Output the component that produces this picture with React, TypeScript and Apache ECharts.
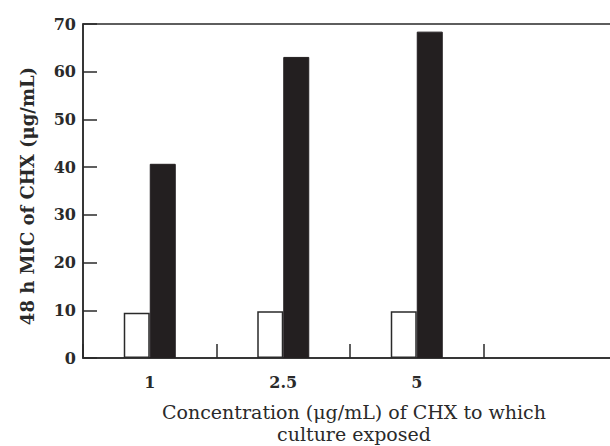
import React, { useEffect, useRef } from "react";
import * as echarts from "echarts";

const categories = ["1", "2.5", "5", ""];
const controlValues = [9.5, 9.8, 9.8, null];
const exposedValues = [40.7, 63.1, 68.4, null];
const yTicks = [0, 10, 20, 30, 40, 50, 60, 70];
const yTitle = "48 h MIC of CHX (μg/mL)";
const xTitle = "Concentration (μg/mL) of CHX to which\nculture exposed";

const SERIF = "'DejaVu Serif', 'Liberation Serif', serif";
const INK = "#2a2a2a";

export default function App() {
  const ref = useRef<HTMLDivElement>(null);
  useEffect(() => {
    if (!ref.current) return;
    const chart = echarts.init(ref.current, undefined, { renderer: "svg" });
    chart.setOption({
      animation: false,
      backgroundColor: "#ffffff",
      grid: {
        left: 83,
        width: 534,
        top: 24,
        bottom: 88,
        outerBoundsMode: "none",
        containLabel: false,
        show: true,
        borderColor: INK,
        borderWidth: 1.5,
        backgroundColor: "transparent",
      },
      graphic: [
        {
          type: "text",
          x: 27,
          y: 196,
          rotation: Math.PI / 2,
          style: {
            text: yTitle,
            fontFamily: SERIF,
            fontSize: 18,
            fontWeight: "bold",
            fill: INK,
            align: "center",
            verticalAlign: "middle",
          },
        },
        {
          type: "text",
          x: 354,
          y: 401,
          style: {
            text: xTitle,
            fontFamily: SERIF,
            fontSize: 19,
            lineHeight: 22,
            fill: INK,
            align: "center",
            verticalAlign: "top",
          },
        },
      ],
      xAxis: {
        type: "category",
        data: categories,
        boundaryGap: true,
        axisLine: { show: true, lineStyle: { color: INK, width: 1.5 } },
        axisTick: { show: true, inside: true, length: 14, lineStyle: { color: INK, width: 1.5 } },
        axisLabel: {
          fontFamily: SERIF,
          fontSize: 16,
          fontWeight: "bold",
          color: INK,
          margin: 16,
        },
        splitLine: { show: false },
      },
      yAxis: {
        type: "value",
        min: 0,
        max: 70,
        interval: 10,
        axisLine: { show: true, lineStyle: { color: INK, width: 1.5 } },
        axisTick: { show: true, inside: true, length: 14, lineStyle: { color: INK, width: 1.5 } },
        axisLabel: {
          fontFamily: SERIF,
          fontSize: 16,
          fontWeight: "bold",
          color: INK,
          margin: 7,
          formatter: (v: number) => (yTicks.includes(v) ? String(v) : ""),
        },
        splitLine: { show: false },
      },
      series: [
        {
          type: "bar",
          data: controlValues,
          barWidth: 26,
          barGap: "0%",
          itemStyle: { color: "#ffffff", borderColor: INK, borderWidth: 1.5 },
        },
        {
          type: "bar",
          data: exposedValues,
          barWidth: 26,
          barGap: "0%",
          itemStyle: { color: "#231f20", borderColor: "#231f20", borderWidth: 1 },
        },
      ],
    });
    return () => chart.dispose();
  }, []);
  return (
    <div
      ref={ref}
      style={{ position: "fixed", left: 0, top: 0, width: 610, height: 446 }}
    />
  );
}
